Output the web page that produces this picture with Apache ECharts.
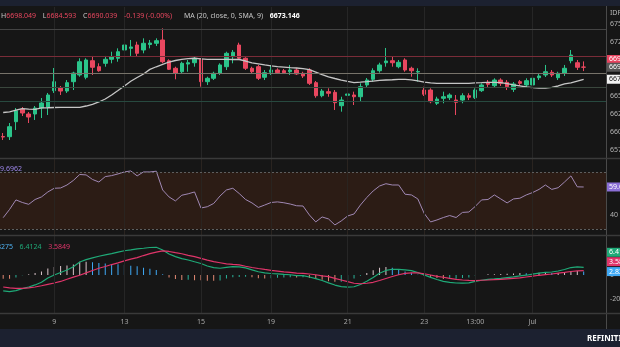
<!DOCTYPE html>
<html><head><meta charset="utf-8">
<script src="https://cdn.jsdelivr.net/npm/echarts@6/dist/echarts.min.js"></script>
<style>html,body{margin:0;padding:0;background:#161616;overflow:hidden}#c{width:620px;height:347px}</style>
</head><body><div id="c"></div>
<script>
// ---- data ----
const opens  = [6593.7,6593.5,6614.3,6631.9,6625.0,6625.0,6633.3,6634.7,6657.4,6661.1,6656.9,6669.9,6679.2,6676.0,6699.0,6690.7,6695.4,6701.0,6702.4,6713.9,6716.2,6720.8,6713.9,6721.5,6723.2,6727.8,6699.0,6688.5,6683.7,6694.4,6696.2,6701.0,6669.9,6674.6,6681.5,6690.7,6704.6,6720.8,6702.4,6688.5,6690.7,6676.0,6682.9,6686.1,6685.1,6683.7,6686.1,6681.5,6686.1,6668.5,6650.4,6656.0,6655.1,6636.5,6651.0,6651.4,6649.0,6665.3,6673.2,6685.1,6696.2,6699.0,6690.7,6700.0,6688.5,6683.3,6658.3,6658.3,6639.9,6646.8,6647.6,6644.4,6644.4,6650.4,6647.6,6657.4,6669.0,6664.3,6672.2,6669.0,6659.3,6669.9,6665.3,6665.3,6675.4,6679.2,6682.9,6675.4,6681.5,6699.0,6696.2,6690.178];
const highs  = [6598.6,6612.5,6633.3,6634.7,6627.8,6636.1,6647.2,6654.2,6688.9,6663.9,6672.2,6683.7,6702.4,6702.4,6705.6,6695.4,6705.6,6711.5,6716.2,6744.4,6727.8,6725.4,6730.1,6727.8,6730.1,6744.0,6701.0,6690.7,6697.6,6700.0,6704.6,6702.4,6676.8,6683.7,6695.4,6711.5,6713.9,6724.0,6703.8,6690.7,6693.1,6686.1,6693.1,6688.5,6687.5,6693.1,6688.5,6683.7,6688.5,6670.8,6659.7,6660.7,6658.3,6649.0,6667.6,6656.0,6667.6,6675.0,6688.5,6696.2,6716.7,6704.6,6700.0,6702.4,6690.7,6688.5,6662.9,6660.7,6649.0,6656.0,6653.8,6651.4,6653.8,6653.8,6660.7,6667.6,6672.2,6674.6,6674.6,6672.2,6669.4,6672.2,6674.6,6681.5,6681.9,6693.1,6686.1,6683.7,6693.1,6713.9,6700.0,6698.049];
const lows   = [6588.9,6588.9,6602.8,6622.2,6612.5,6616.7,6619.4,6623.6,6654.2,6651.4,6654.2,6658.3,6676.8,6673.2,6679.2,6683.7,6690.7,6695.4,6697.6,6697.6,6705.6,6704.6,6709.3,6716.2,6719.4,6695.4,6686.1,6673.2,6681.5,6683.7,6690.7,6662.9,6665.3,6672.2,6679.2,6686.1,6695.4,6700.0,6686.1,6681.5,6672.2,6672.2,6679.2,6680.6,6680.6,6679.2,6679.2,6675.0,6665.3,6647.6,6648.2,6649.0,6630.6,6628.2,6639.9,6637.5,6642.1,6661.1,6669.9,6682.4,6690.7,6690.7,6688.5,6683.7,6676.8,6669.9,6650.0,6639.9,6637.5,6639.9,6644.4,6623.6,6639.9,6644.4,6645.8,6655.6,6661.1,6661.1,6663.9,6658.3,6655.6,6663.9,6661.1,6662.5,6672.2,6676.4,6676.4,6672.2,6677.8,6695.4,6686.1,6684.593];
const closes = [6593.0,6607.4,6629.6,6626.4,6620.8,6633.3,6640.3,6651.4,6669.9,6656.9,6668.5,6681.9,6697.6,6700.0,6689.9,6685.1,6701.0,6704.6,6711.5,6720.8,6718.1,6709.3,6723.2,6723.6,6726.8,6697.6,6687.1,6681.5,6695.4,6696.2,6702.4,6669.9,6674.6,6681.5,6693.1,6709.3,6710.7,6702.4,6688.5,6683.7,6674.6,6682.4,6686.1,6682.4,6682.4,6686.1,6680.6,6677.8,6667.6,6650.4,6656.9,6653.8,6640.7,6644.4,6652.8,6649.0,6662.9,6672.2,6685.1,6693.1,6698.6,6696.2,6696.8,6686.1,6685.1,6684.0,6652.4,6642.1,6645.8,6649.0,6651.4,6641.3,6650.4,6648.2,6658.3,6665.3,6666.3,6672.2,6667.6,6662.9,6666.7,6667.6,6671.3,6674.6,6677.8,6683.7,6679.2,6681.5,6688.5,6706.9,6689.9,6690.039];
const ma20   = [6627.1,6627.9,6630.3,6632.6,6631.7,6631.5,6633.6,6633.7,6634.0,6634.2,6634.3,6634.3,6634.3,6636.1,6638.5,6641.7,6645.8,6651.4,6657.6,6663.9,6670.5,6675.7,6680.5,6687.0,6690.6,6693.8,6697.2,6699.3,6701.0,6701.8,6702.4,6701.7,6701.0,6701.0,6701.0,6701.0,6700.7,6700.7,6698.6,6696.1,6694.7,6693.1,6691.9,6690.7,6690.0,6689.3,6688.9,6687.9,6686.5,6683.3,6679.7,6676.5,6674.3,6672.2,6670.3,6668.6,6669.2,6669.9,6670.8,6671.7,6672.2,6672.6,6673.1,6673.1,6672.5,6671.1,6669.2,6668.1,6667.6,6667.6,6667.6,6667.6,6667.6,6667.6,6668.1,6668.5,6669.0,6668.8,6668.5,6667.1,6665.6,6664.2,6662.5,6661.5,6660.8,6661.1,6662.1,6663.9,6666.7,6668.1,6670.8,6673.146];
const rsi    = [38.1,43.9,50.6,48.8,47.5,50.9,52.7,56.2,58.8,59.0,61.1,64.3,68.5,68.2,65.0,63.2,67.0,67.7,68.9,70.3,71.0,67.5,70.3,70.3,70.8,57.6,52.7,49.9,53.9,54.9,56.2,44.9,45.8,48.1,53.4,57.6,58.8,55.1,50.9,48.5,45.3,47.0,48.8,49.2,48.6,47.7,46.5,46.3,40.0,35.1,38.6,37.2,33.0,35.8,39.3,40.7,47.0,52.3,56.9,60.4,62.0,61.1,61.1,54.6,54.1,51.3,41.1,35.1,36.5,38.2,39.6,38.2,41.8,42.1,46.0,50.6,50.9,54.1,51.3,48.5,51.3,51.8,54.1,55.8,58.0,61.1,58.0,59.2,63.2,67.5,59.8,59.6962];
const macd   = [-13.2,-13.9,-13.1,-11.4,-10.0,-8.3,-6.1,-2.5,0.0,2.1,4.2,6.9,10.8,12.8,14.3,15.6,16.7,17.8,19.0,20.2,20.9,21.8,22.3,22.9,23.1,20.8,17.5,15.3,13.6,12.5,11.0,9.6,7.5,6.2,5.6,6.3,7.0,6.8,5.9,4.3,2.7,1.7,1.25,1.0,0.5,0.2,-0.5,-0.5,-1.7,-3.1,-4.6,-6.6,-8.4,-9.75,-10.2,-9.8,-7.9,-5.2,-2.1,1.4,3.8,4.75,4.75,4.3,3.6,2.0,0.1,-2.0,-3.75,-5.3,-6.2,-6.7,-6.8,-6.6,-5.4,-4.4,-3.6,-3.25,-2.8,-2.2,-1.6,-0.8,-0.2,0.75,1.6,2.25,2.5,3.3,4.6,6.2,6.8,6.4124];
const signal = [-10,-10.7,-11.1,-11.1,-10.7,-10,-9.0,-7.8,-6.7,-5.4,-3.6,-1.8,-0.2,1.8,3.75,5.6,7.1,8.7,10.1,11.7,13.2,14.5,16.2,17.75,19.0,20.1,19.6,18.6,17.7,16.4,15.3,13.9,12.4,11.1,10.2,9.3,8.8,8.4,7.3,6.25,5.4,4.6,3.9,3.25,2.6,2.1,1.6,1.3,0.8,0.2,-0.7,-1.4,-2.8,-4.2,-5.6,-6.9,-7.3,-6.9,-6.1,-4.6,-2.9,-1.25,0.2,1.4,1.7,1.8,1.0,0,-1.2,-1.9,-2.9,-3.6,-4.2,-4.5,-4.7,-4.4,-4.2,-3.9,-3.6,-3.2,-2.8,-2.4,-1.7,-1.0,-0.25,0.3,0.8,1.6,2.2,2.9,3.5,3.5849];
const hist   = [-3.2,-3.2,-2.0,-0.3,0.7,1.7,2.9,5.3,6.7,7.5,7.8,8.7,11.0,11.0,10.55,10.0,9.6,9.1,8.9,8.5,7.7,7.3,6.1,5.15,4.1,0.7,-2.1,-3.3,-4.1,-3.9,-4.3,-4.3,-4.9,-4.9,-4.6,-3.0,-1.8,-1.6,-1.4,-1.95,-2.7,-2.9,-2.65,-2.25,-2.1,-1.9,-2.1,-1.8,-2.5,-3.3,-3.9,-5.2,-5.6,-5.55,-4.6,-2.9,-0.6,1.7,4.0,6.0,6.7,6.0,4.55,2.9,1.9,0.2,-0.9,-2.0,-2.55,-3.4,-3.3,-3.1,-2.6,-2.1,-0.7,0,0.6,0.65,0.8,1.0,1.2,1.6,1.5,1.75,1.85,1.95,1.7,1.7,2.4,3.3,3.3,2.8275];
const xTickLabels = {8:'9',19:'13',31:'15',42:'19',54:'21',66:'23',74:'13:00',83:'Jul'};
const priceTicks = [6575,6600,6625,6650,6675,6700,6725,6750];
const rsiTicks = [40,60];
const macdTicks = [-20,0,20];
const levelValues = [6743.1,6705.6,6681.9,6662.5,6643.1];
const rsiBands = [30,70];
const lastHigh = 6698.049, lastLow = 6684.593, lastClose = 6690.039, maLast = 6673.146;
const totalSlots = 95;

// ---- build ----
const categories = Array.from({length: totalSlots}, (_, i) => 'b' + i);
const candleData = opens.map((o, i) => [o, closes[i], lows[i], highs[i]]);
const UP = '#2bc48a', DN = '#e9475f';
const levelColors = ['#444444','#7a2c38','#77736a','#3a473d','#27493f'];
const histColors = hist.map((h, i) => {
  const p = i ? hist[i-1] : h;
  if (h >= 0) return h >= p ? '#dcc6cc' : '#3fa9f5';
  return h <= p ? '#e38a74' : '#2bb39a';
});
const FONT = 'Noto Sans';
const vGrid = Object.keys(xTickLabels).map(k => ({xAxis: categories[+k]}));

function badge(val, text, bg, fg, dy) {
  return {yAxis: val, lineStyle: {color: 'rgba(0,0,0,0)', width: 0, opacity: 1},
    label: {show: true, opacity: 1, position: 'end', distance: 1, formatter: text, backgroundColor: bg,
      color: fg, padding: [1, 2, 1, 2], fontSize: 7, fontFamily: FONT, offset: [0, dy || 0]}};
}

const chart = echarts.init(document.getElementById('c'), null, {renderer: 'canvas'});
const gridR = 14;
const gridBase = {left: 0, right: gridR, containLabel: false, outerBoundsMode: 'none'};
const option = {
  backgroundColor: '#161616',
  animation: false,
  grid: [
    {...gridBase, top: 7, height: 151},
    {...gridBase, top: 159, height: 76},
    {...gridBase, top: 236, height: 77}
  ],
  xAxis: [0,1,2].map(g => ({
    type: 'category', gridIndex: g, data: categories, boundaryGap: true,
    axisLine: {show: false}, axisTick: {show: false}, splitLine: {show: false},
    axisLabel: g < 2 ? {show: false} : {
      show: true, interval: 0, margin: 5, color: '#a8a8a8', fontSize: 7, fontFamily: FONT,
      formatter: (v, idx) => xTickLabels[idx] || ''
    }
  })),
  yAxis: [
    {type: 'value', gridIndex: 0, position: 'right', min: 6563.9, max: 6773.6, scale: true,
     axisLine: {show: false}, axisTick: {show: false, customValues: priceTicks}, splitLine: {show: false},
     axisLabel: {customValues: priceTicks, margin: 4, color: '#b4b4b4', fontSize: 7, fontFamily: FONT,
       formatter: v => v.toFixed(3)}},
    {type: 'value', gridIndex: 1, position: 'right', min: 25.9, max: 79.4,
     axisLine: {show: false}, axisTick: {show: false, customValues: rsiTicks}, splitLine: {show: false},
     axisLabel: {customValues: rsiTicks, margin: 4, color: '#b4b4b4', fontSize: 7, fontFamily: FONT}},
    {type: 'value', gridIndex: 2, position: 'right', min: -31.7, max: 32.5,
     axisLine: {show: false}, axisTick: {show: false, customValues: macdTicks}, splitLine: {show: false},
     axisLabel: {customValues: macdTicks, margin: 4, color: '#b4b4b4', fontSize: 7, fontFamily: FONT}}
  ],
  series: [
    {type: 'candlestick', name: 'price', xAxisIndex: 0, yAxisIndex: 0, data: candleData, barWidth: 4, clip: false,
     itemStyle: {color: UP, color0: DN, borderColor: UP, borderColor0: DN, borderWidth: 1},
     markLine: {silent: true, symbol: ['none','none'], animation: false, precision: 3,
       data: [
         ...vGrid.map(d => ({...d, lineStyle: {color: '#262626', width: 1, type: 'solid'}, label: {show: false}})),
         ...levelValues.map((v, i) => ({yAxis: v, lineStyle: {color: levelColors[i], width: 1, type: 'solid'}, label: {show: false}})),
         badge(lastHigh, lastHigh.toFixed(3), '#e8435f', '#ffffff', -2),
         badge(lastClose, lastClose.toFixed(3), '#555555', '#ffffff', 0),
         badge(maLast, maLast.toFixed(3), '#f2f2f2', '#111111', 0)
       ]}},
    {type: 'line', name: 'MA', xAxisIndex: 0, yAxisIndex: 0, data: ma20, symbol: 'none', clip: false,
     lineStyle: {color: '#c6c6c6', width: 1.3}, z: 3},
    {type: 'line', name: 'RSI', xAxisIndex: 1, yAxisIndex: 1, data: rsi, symbol: 'none', clip: false,
     lineStyle: {color: '#a088b4', width: 1},
     markArea: {silent: true, itemStyle: {color: '#2c1c15'}, data: [[{yAxis: rsiBands[0]}, {yAxis: rsiBands[1]}]]},
     markLine: {silent: true, symbol: ['none','none'], animation: false,
       data: [
         ...vGrid.map(d => ({...d, lineStyle: {color: '#2a2420', width: 1, type: 'solid'}, label: {show: false}})),
         ...rsiBands.map(v => ({yAxis: v, lineStyle: {color: '#5e5e5e', width: 1, type: [2, 2]}, label: {show: false}})),
         badge(rsi[rsi.length-1], rsi[rsi.length-1].toFixed(4), '#8b6fd6', '#ffffff', 0)
       ]}},
    {type: 'bar', name: 'Hist', xAxisIndex: 2, yAxisIndex: 2, barWidth: 1, clip: false,
     data: hist.map((h, i) => ({value: h, itemStyle: {color: histColors[i]}})),
     markLine: {silent: true, symbol: ['none','none'], animation: false,
       data: [
         ...vGrid.map(d => ({...d, lineStyle: {color: '#262626', width: 1, type: 'solid'}, label: {show: false}})),
         badge(hist[hist.length-1], hist[hist.length-1].toFixed(4), '#3fa9f5', '#ffffff', 0)
       ]}},
    {type: 'line', name: 'MACD', xAxisIndex: 2, yAxisIndex: 2, data: macd, symbol: 'none', clip: false,
     lineStyle: {color: '#1faa78', width: 1.2},
     markLine: {silent: true, symbol: ['none','none'], animation: false,
       data: [badge(macd[macd.length-1], macd[macd.length-1].toFixed(4), '#1faa78', '#ffffff', -15)]}},
    {type: 'line', name: 'Signal', xAxisIndex: 2, yAxisIndex: 2, data: signal, symbol: 'none', clip: false,
     lineStyle: {color: '#e0356a', width: 1.2},
     markLine: {silent: true, symbol: ['none','none'], animation: false,
       data: [badge(signal[signal.length-1], signal[signal.length-1].toFixed(4), '#e0356a', '#ffffff', -9)]}}
  ],
  graphic: [
    {type: 'rect', silent: true, z: -1, shape: {x: 0, y: 0, width: 620, height: 6}, style: {fill: '#1c2130'}},
    {type: 'rect', silent: true, z: -1, shape: {x: 0, y: 329, width: 620, height: 18}, style: {fill: '#1c2130'}},
    {type: 'line', silent: true, z: 50, shape: {x1: 606.5, y1: 6, x2: 606.5, y2: 329}, style: {stroke: '#4a4a4a', lineWidth: 1}},
    {type: 'line', silent: true, z: 50, shape: {x1: 0, y1: 158.5, x2: 620, y2: 158.5}, style: {stroke: '#3a3a3a', lineWidth: 1.5}},
    {type: 'line', silent: true, z: 50, shape: {x1: 0, y1: 235.5, x2: 620, y2: 235.5}, style: {stroke: '#3a3a3a', lineWidth: 1.5}},
    {type: 'line', silent: true, z: 50, shape: {x1: 0, y1: 313.5, x2: 620, y2: 313.5}, style: {stroke: '#3a3a3a', lineWidth: 1.5}},
    {type: 'text', silent: true, z: 100, left: 1, top: 10,
     style: {text: '{g|H}{r|6698.049}  {g|L}{r|6684.593}  {g|C}{r|6690.039}  {r|-0.139 (-0.00%)}',
       rich: {g: {fill: '#c8c8c8', fontSize: 7, fontFamily: FONT}, r: {fill: '#e8475f', fontSize: 7, fontFamily: FONT}}}},
    {type: 'text', silent: true, z: 100, left: 184, top: 10,
     style: {text: '{g|MA (20, close, 0, SMA, 9)}  {w|6673.146}',
       rich: {g: {fill: '#c8c8c8', fontSize: 7, fontFamily: FONT}, w: {fill: '#ffffff', fontSize: 7, fontWeight: 'bold', fontFamily: FONT}}}},
    {type: 'text', silent: true, z: 100, x: 610, y: 9, style: {text: 'IDF', fill: '#b4b4b4', fontSize: 7, fontFamily: FONT}},
    {type: 'text', silent: true, z: 100, x: -4, y: 165, style: {text: '59.6962', fill: '#9d86e9', fontSize: 7, fontFamily: FONT}},
    {type: 'text', silent: true, z: 100, x: -9, y: 241,
     style: {text: '{b|2.8275}  {g|6.4124}  {r|3.5849}',
       rich: {b: {fill: '#4fb4f5', fontSize: 7, fontFamily: FONT}, g: {fill: '#1faa78', fontSize: 7, fontFamily: FONT}, r: {fill: '#e0356a', fontSize: 7, fontFamily: FONT}}}},
    {type: 'text', silent: true, z: 100, x: 587, y: 335, style: {text: 'REFINITIV', fill: '#ffffff', fontSize: 8, fontWeight: 'bold', fontFamily: FONT}}
  ]
};
chart.setOption(option);
</script></body></html>
